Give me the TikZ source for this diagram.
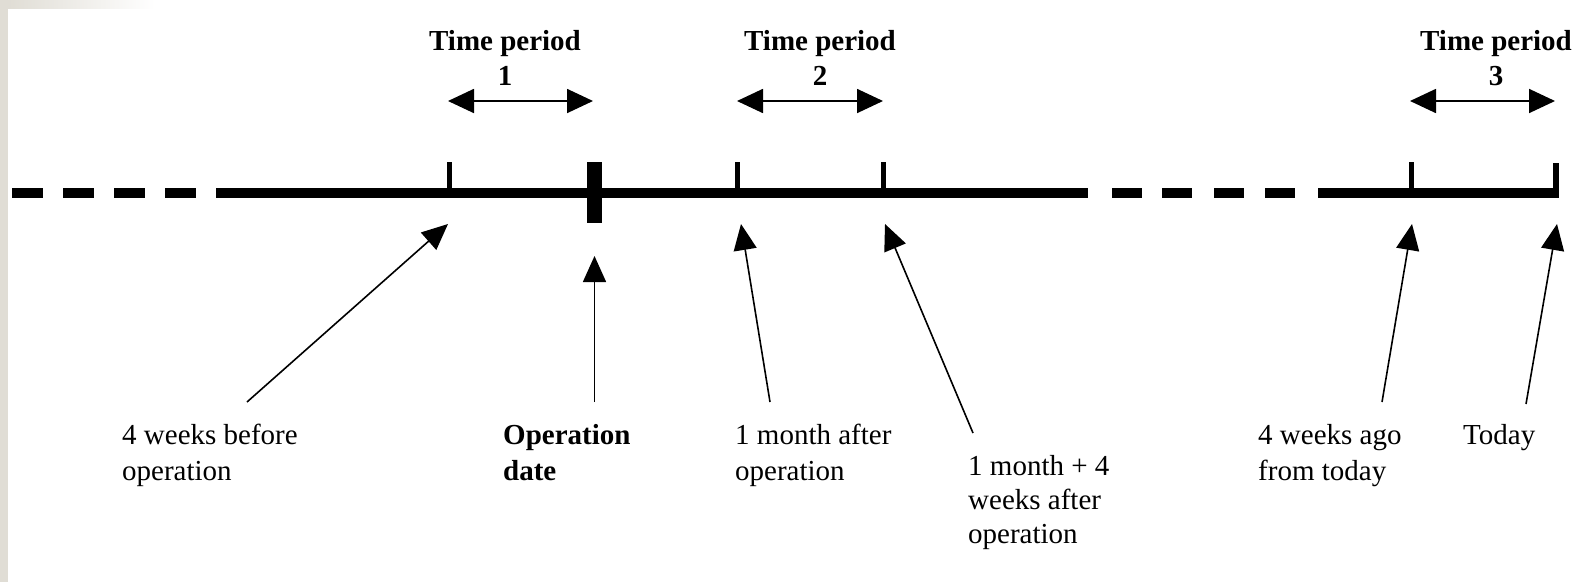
\documentclass[tikz,border=0pt]{standalone}
\usepackage{fontspec}
\setmainfont{Liberation Serif}
\usetikzlibrary{arrows.meta}
\definecolor{stripgray}{RGB}{224,221,213}
\tikzset{
  tl/.style={line width=10pt, line cap=butt},
  tickmark/.style={line width=5pt, line cap=butt},
  bigtick/.style={line width=15pt, line cap=butt},
  ptr/.style={line width=1.6pt, -{Triangle[length=26pt,width=23pt]}},
  span/.style={line width=1.8pt, {Triangle[length=26pt,width=24pt]}-{Triangle[length=26pt,width=24pt]}},
  lbl/.style={inner sep=0pt, anchor=base west, align=left, font=\fontsize{29}{36}\selectfont},
  ttl/.style={inner sep=0pt, anchor=base, align=center, font=\fontsize{29}{35}\selectfont\bfseries},
}
\begin{document}
\begin{tikzpicture}[x=1pt,y=-1pt]
\useasboundingbox (0,0) rectangle (1579,582);
\fill[white] (0,0) rectangle (1579,582);
\fill[stripgray] (0,0) rectangle (8,582);
\shade[left color=stripgray, right color=white] (8,0) rectangle (155,8);

% timeline
\foreach \a/\b in {12/43,63/94,114/145,165/196,1112/1142,1162/1192,1214/1244,1265/1295}
  \draw[tl] (\a,193) -- (\b,193);
\draw[tl] (216,193) -- (1088,193);
\draw[tl] (1318,193) -- (1553,193);
\draw[line width=6pt, line cap=butt] (1556,163) -- (1556,198);

% ticks
\coordinate (k1) at (449.5,193);
\coordinate (k2) at (594.5,193);
\coordinate (k3) at (737.5,193);
\coordinate (k4) at (883.5,193);
\coordinate (k5) at (1411.5,193);
\draw[tickmark] (449.5,162) -- (k1);
\draw[bigtick] (594.5,162) -- (594.5,223);
\draw[tickmark] (737.5,162) -- (k3);
\draw[tickmark] (883.5,162) -- (k4);
\draw[tickmark] (1411.5,162) -- (k5);

% time periods (base = last line)
\node[ttl] (p1) at (505,85) {Time period\\1};
\node[ttl] (p2) at (820,85) {Time period\\2};
\node[ttl] (p3) at (1496,85) {Time period\\3};
\coordinate (p1a) at (448,101); \coordinate (p1b) at (593,101);
\coordinate (p2a) at (737,101); \coordinate (p2b) at (883,101);
\coordinate (p3a) at (1410,101); \coordinate (p3b) at (1555,101);
\draw[span] (p1a) -- (p1b);
\draw[span] (p2a) -- (p2b);
\draw[span] (p3a) -- (p3b);

% labels (base = last line)
\node[lbl] (n1) at (122,480) {4 weeks before\\operation};
\node[lbl, font=\fontsize{29}{36}\selectfont\bfseries] (n2) at (503,480) {Operation\\date};
\node[lbl] (n3) at (735,480) {1 month after\\operation};
\node[lbl, font=\fontsize{29}{34}\selectfont] (n4) at (968,543) {1 month + 4\\weeks after\\operation};
\node[lbl] (n5) at (1258,480) {4 weeks ago\\from today};
\node[lbl] (n6) at (1463,444) {Today};

% pointer arrows
\coordinate (s1) at (247,402); \coordinate (e1) at (448,224);
\coordinate (s2) at (594.5,402); \coordinate (e2) at (594.5,256);
\coordinate (s3) at (770,402); \coordinate (e3) at (741,224);
\coordinate (s4) at (973,433); \coordinate (e4) at (885,224);
\coordinate (s5) at (1382,402); \coordinate (e5) at (1412,224);
\coordinate (s6) at (1526,404); \coordinate (e6) at (1557,224);
\foreach \i in {1,...,6} \draw[ptr] (s\i) -- (e\i);
\end{tikzpicture}
\end{document}
